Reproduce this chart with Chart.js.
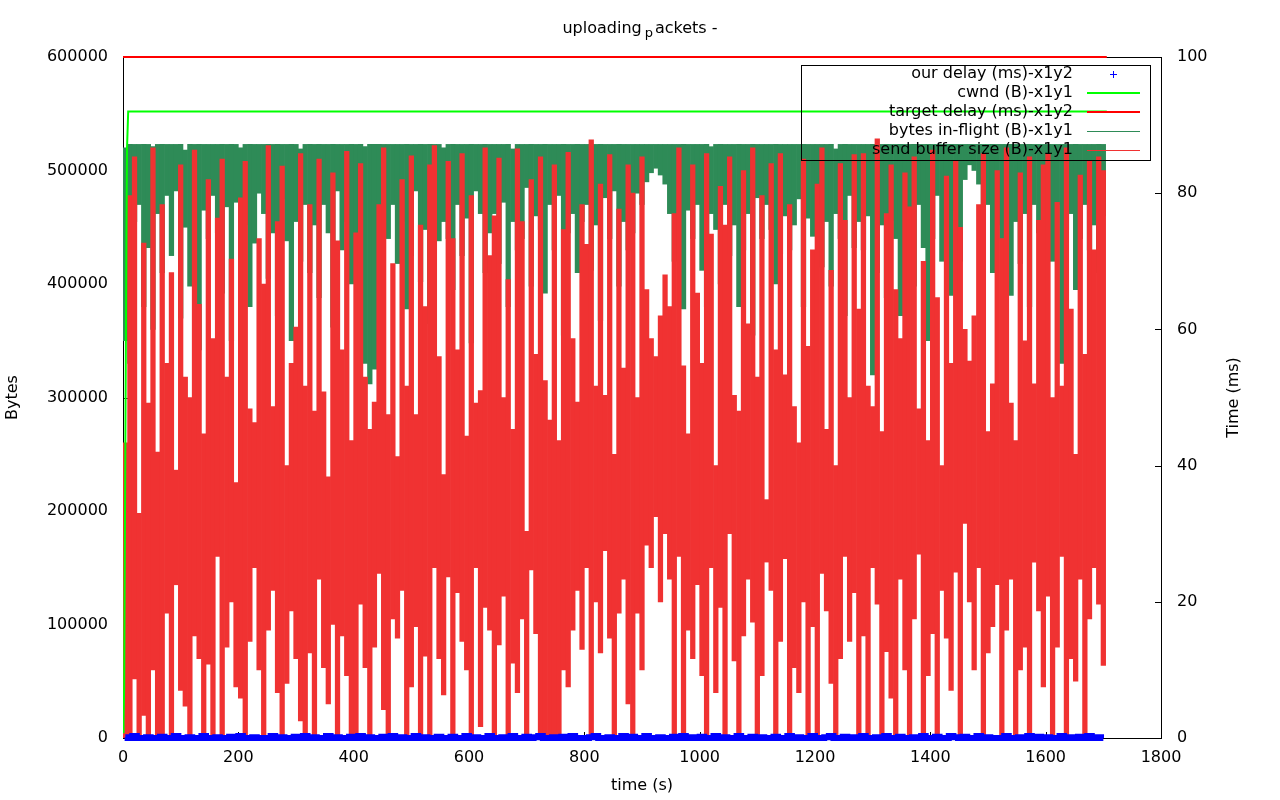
<!DOCTYPE html>
<html>
<head>
<meta charset="utf-8">
<title>uploading packets</title>
<script src="https://cdn.jsdelivr.net/npm/chart.js@4.4.1/dist/chart.umd.min.js"></script>
<style>
  html, body { margin: 0; padding: 0; background: #fff; }
  canvas { display: block; }
</style>
</head>
<body>
<canvas id="chart" width="1280" height="800"></canvas>
<script>
// sample times (s), one column of the plot each
const times = [
  4,12,20,28,36,44,52,60,68,76,
  84,92,100,108,116,124,132,140,148,156,
  164,172,180,188,196,204,212,220,228,236,
  244,252,260,268,276,284,292,300,308,316,
  324,332,340,348,356,364,372,380,388,396,
  404,412,420,428,436,444,452,460,468,476,
  484,492,500,508,516,524,532,540,548,556,
  564,572,580,588,596,604,612,620,628,636,
  644,652,660,668,676,684,692,700,708,716,
  724,732,740,748,756,764,772,780,788,796,
  804,812,820,828,836,844,852,860,868,876,
  884,892,900,908,916,924,932,940,948,956,
  964,972,980,988,996,1004,1012,1020,1028,1036,
  1044,1052,1060,1068,1076,1084,1092,1100,1108,1116,
  1124,1132,1140,1148,1156,1164,1172,1180,1188,1196,
  1204,1212,1220,1228,1236,1244,1252,1260,1268,1276,
  1284,1292,1300,1308,1316,1324,1332,1340,1348,1356,
  1364,1372,1380,1388,1396,1404,1412,1420,1428,1436,
  1444,1452,1460,1468,1476,1484,1492,1500,1508,1516,
  1524,1532,1540,1548,1556,1564,1572,1580,1588,1596,
  1604,1612,1620,1628,1636,1644,1652,1660,1668,1676,
  1684,1692,1700
];

// send buffer size (B): max / min seen in each column
const sendBufHi = [
  260e3,478e3,512e3,198e3,436e3,295e3,520e3,252e3,470e3,330e3,
  410e3,236e3,505e3,318e3,300e3,518e3,382e3,268e3,492e3,352e3,
  458e3,510e3,318e3,422e3,225e3,476e3,508e3,290e3,278e3,440e3,
  400e3,522e3,292e3,455e3,504e3,240e3,330e3,362e3,515e3,310e3,
  470e3,288e3,510e3,305e3,230e3,498e3,438e3,342e3,517e3,262e3,
  445e3,506e3,318e3,272e3,296e3,470e3,520e3,285e3,418e3,248e3,
  492e3,310e3,513e3,285e3,452e3,380e3,505e3,522e3,336e3,232e3,
  508e3,440e3,342e3,515e3,266e3,478e3,295e3,306e3,520e3,425e3,
  460e3,511e3,300e3,404e3,272e3,519e3,455e3,182e3,492e3,338e3,
  512e3,315e3,280e3,505e3,262e3,448e3,516e3,352e3,296e3,470e3,
  435e3,527e3,310e3,488e3,302e3,514e3,250e3,466e3,326e3,505e3,
  480e3,300e3,512e3,395e3,352e3,336e3,372e3,408e3,380e3,462e3,
  520e3,328e3,268e3,505e3,392e3,330e3,515e3,444e3,240e3,486e3,
  452e3,512e3,302e3,288e3,500e3,365e3,520e3,318e3,478e3,210e3,
  506e3,342e3,515e3,320e3,470e3,292e3,260e3,510e3,345e3,430e3,
  488e3,520e3,272e3,412e3,240e3,506e3,456e3,300e3,514e3,378e3,
  515e3,310e3,292e3,528e3,270e3,462e3,505e3,395e3,352e3,498e3,
  468e3,512e3,290e3,420e3,262e3,518e3,388e3,240e3,495e3,330e3,
  508e3,450e3,360e3,332e3,372e3,470e3,515e3,270e3,312e3,500e3,
  440e3,520e3,295e3,262e3,498e3,350e3,512e3,312e3,456e3,505e3,
  515e3,300e3,472e3,310e3,520e3,378e3,250e3,496e3,338e3,508e3,
  430e3,512e3,500e3
];
const sendBufLo = [
  0,0,52e3,0,20e3,0,60e3,0,0,110e3,
  0,135e3,42e3,28e3,0,90e3,70e3,2e3,65e3,0,
  160e3,0,80e3,120e3,45e3,35e3,0,85e3,150e3,60e3,
  0,95e3,130e3,40e3,0,48e3,112e3,70e3,15e3,0,
  75e3,0,140e3,62e3,30e3,100e3,0,90e3,55e3,0,
  0,118e3,62e3,0,80e3,145e3,25e3,0,105e3,88e3,
  130e3,0,45e3,98e3,0,72e3,0,150e3,70e3,38e3,
  142e3,0,128e3,85e3,60e3,0,150e3,10e3,115e3,95e3,
  0,82e3,125e3,0,66e3,40e3,105e3,0,148e3,92e3,
  0,0,0,0,0,60e3,45e3,95e3,130e3,78e3,
  150e3,0,120e3,75e3,165e3,88e3,0,110e3,140e3,30e3,
  0,110e3,60e3,170e3,150e3,195e3,120e3,180e3,140e3,0,
  160e3,0,95e3,70e3,135e3,55e3,0,150e3,40e3,115e3,
  0,180e3,68e3,0,90e3,140e3,102e3,0,55e3,155e3,
  130e3,0,85e3,158e3,0,62e3,40e3,120e3,0,98e3,
  0,145e3,112e3,48e3,0,70e3,160e3,85e3,128e3,0,
  90e3,0,150e3,118e3,0,76e3,35e3,0,140e3,60e3,
  0,105e3,162e3,0,55e3,92e3,0,130e3,88e3,42e3,
  146e3,0,189e3,120e3,60e3,150e3,0,75e3,98e3,135e3,
  0,95e3,140e3,0,60e3,80e3,0,155e3,112e3,45e3,
  125e3,0,80e3,160e3,0,70e3,50e3,140e3,0,105e3,
  150e3,118e3,64e3
];

// bytes in-flight (B): max / min seen in each column
const inflightHi = [
  520e3,523e3,523e3,523e3,523e3,523e3,521e3,523e3,523e3,523e3,
  523e3,523e3,523e3,518e3,523e3,523e3,523e3,523e3,523e3,523e3,
  523e3,523e3,523e3,523e3,523e3,520e3,523e3,523e3,523e3,523e3,
  523e3,523e3,523e3,523e3,523e3,523e3,523e3,523e3,519e3,523e3,
  523e3,523e3,523e3,523e3,523e3,523e3,523e3,523e3,523e3,523e3,
  523e3,523e3,521e3,523e3,523e3,523e3,523e3,523e3,523e3,523e3,
  523e3,523e3,523e3,523e3,523e3,523e3,523e3,523e3,523e3,520e3,
  523e3,523e3,523e3,523e3,523e3,523e3,523e3,523e3,523e3,523e3,
  523e3,523e3,523e3,523e3,519e3,523e3,523e3,523e3,523e3,523e3,
  523e3,523e3,523e3,523e3,523e3,523e3,523e3,523e3,523e3,523e3,
  523e3,523e3,523e3,523e3,523e3,523e3,523e3,523e3,523e3,523e3,
  523e3,523e3,523e3,523e3,523e3,523e3,523e3,523e3,523e3,523e3,
  523e3,523e3,523e3,523e3,523e3,523e3,523e3,521e3,523e3,523e3,
  523e3,523e3,523e3,523e3,523e3,523e3,523e3,523e3,523e3,523e3,
  523e3,523e3,523e3,523e3,523e3,523e3,523e3,523e3,523e3,523e3,
  523e3,523e3,523e3,523e3,519e3,523e3,523e3,523e3,523e3,523e3,
  523e3,523e3,523e3,523e3,523e3,523e3,523e3,523e3,523e3,523e3,
  523e3,523e3,523e3,523e3,523e3,523e3,523e3,523e3,523e3,523e3,
  523e3,523e3,523e3,523e3,523e3,523e3,523e3,523e3,523e3,523e3,
  523e3,523e3,523e3,523e3,523e3,523e3,523e3,523e3,523e3,523e3,
  523e3,523e3,523e3,523e3,523e3,523e3,523e3,523e3,523e3,523e3,
  523e3,523e3,523e3
];
const inflightLo = [
  350e3,330e3,455e3,470e3,380e3,432e3,360e3,462e3,410e3,478e3,
  425e3,482e3,370e3,450e3,398e3,458e3,342e3,465e3,440e3,478e3,
  445e3,392e3,468e3,350e3,472e3,415e3,452e3,380e3,436e3,480e3,
  462e3,405e3,445e3,372e3,475e3,438e3,350e3,455e3,420e3,470e3,
  410e3,452e3,388e3,470e3,445e3,362e3,482e3,430e3,455e3,400e3,
  420e3,360e3,330e3,312e3,325e3,390e3,452e3,440e3,470e3,418e3,
  455e3,378e3,425e3,482e3,402e3,448e3,365e3,470e3,438e3,455e3,
  440e3,395e3,470e3,425e3,458e3,348e3,482e3,462e3,410e3,445e3,
  462e3,418e3,472e3,380e3,455e3,430e3,440e3,485e3,398e3,460e3,
  448e3,392e3,470e3,430e3,478e3,355e3,445e3,462e3,410e3,455e3,
  470e3,412e3,452e3,368e3,476e3,440e3,482e3,398e3,455e3,430e3,
  445e3,480e3,470e3,490e3,498e3,502e3,496e3,488e3,462e3,420e3,
  452e3,378e3,465e3,440e3,470e3,412e3,380e3,462e3,448e3,400e3,
  470e3,425e3,452e3,380e3,430e3,462e3,355e3,476e3,440e3,470e3,
  448e3,400e3,426e3,460e3,430e3,452e3,475e3,380e3,458e3,442e3,
  470e3,415e3,455e3,398e3,462e3,440e3,372e3,478e3,432e3,455e3,
  430e3,460e3,320e3,410e3,452e3,388e3,456e3,440e3,372e3,470e3,
  455e3,398e3,470e3,432e3,350e3,440e3,478e3,420e3,452e3,390e3,
  465e3,420e3,492e3,505e3,500e3,488e3,445e3,470e3,410e3,452e3,
  440e3,470e3,390e3,455e3,418e3,462e3,380e3,470e3,445e3,412e3,
  455e3,420e3,470e3,330e3,448e3,462e3,395e3,440e3,470e3,430e3,
  452e3,410e3,460e3
];

// our delay (ms)
const ourDelay = [
  0.1,0,0.3,0,0,0.1,0,0,0.2,0,
  0,0.3,0,0,0.1,0,0,0.3,0,0,
  0.1,0,0,0.2,0,0.3,0,0,0.1,0,
  0,0,0.3,0,0.1,0,0,0.2,0,0.3,
  0,0.1,0,0,0.3,0,0.1,0,0,0.2,
  0,0.3,0,0.1,0,0,0.2,0,0.3,0,
  0.1,0,0,0.3,0,0.1,0,0,0.2,0,
  0,0.2,0,0,0.3,0,0.1,0,0,0.3,
  0,0,0.1,0,0.3,0,0,0.2,0,0.1,
  0.3,0,0,0.1,0,0.2,0,0.3,0,0,
  0,0.1,0.3,0,0,0.1,0,0,0.3,0,
  0.2,0,0,0.3,0,0,0.1,0,0,0.2,
  0,0.3,0,0.1,0,0.2,0,0,0.3,0,
  0.1,0,0,0.3,0,0,0.2,0,0.1,0,
  0,0.2,0,0,0.3,0,0.1,0,0,0.3,
  0,0,0.1,0.3,0,0,0.2,0,0.1,0,
  0.3,0,0,0.1,0,0.3,0,0,0.2,0,
  0,0.1,0,0.3,0,0,0.2,0,0,0.3,
  0.1,0,0.2,0,0,0.3,0,0.1,0,0,
  0,0.3,0,0,0.1,0,0.3,0,0.2,0,
  0.1,0,0,0.3,0,0.1,0,0.2,0,0.3,
  0,0.1,0
];

// cwnd (B)
const cwndTimes = [0, 1, 2, 4, 6, 7, 9, 1706];
const cwnd = [5e3, 15e3, 45e3, 250e3, 450e3, 520e3, 552e3, 552e3];

// target delay (ms)
const targetTimes = [0, 1706];
const targetDelay = [100, 100];

const xTicks = [0, 200, 400, 600, 800, 1000, 1200, 1400, 1600, 1800];

const FONT = 'DejaVu Sans';
Chart.defaults.font.family = FONT;
Chart.defaults.font.size = 16;
Chart.defaults.color = '#000';

const pts = (xs, ys) => xs.map((x, i) => ({ x: x, y: ys[i] }));
const ranges = (xs, lo, hi) => xs.map((x, i) => ({ x: x, y: [lo[i], hi[i]] }));

// gnuplot look: box, inward ticks, title, axis labels, key
const gnuplotFrame = {
  id: 'gnuplotFrame',
  beforeDatasetsDraw(chart) {
    const { ctx, chartArea: a, scales } = chart;
    ctx.save();
    ctx.strokeStyle = '#000';
    ctx.lineWidth = 1;
    ctx.strokeRect(a.left + 0.5, a.top + 0.5, a.right - a.left, a.bottom - a.top);
    ctx.beginPath();
    scales.y.ticks.forEach(t => {
      const py = Math.round(scales.y.getPixelForValue(t.value)) + 0.5;
      ctx.moveTo(a.left, py); ctx.lineTo(a.left + 6, py);
    });
    scales.y2.ticks.forEach(t => {
      const py = Math.round(scales.y2.getPixelForValue(t.value)) + 0.5;
      ctx.moveTo(a.right, py); ctx.lineTo(a.right - 6, py);
    });
    scales.x.ticks.forEach(t => {
      const px = Math.round(scales.x.getPixelForValue(t.value)) + 0.5;
      ctx.moveTo(px, a.bottom); ctx.lineTo(px, a.bottom - 6);
    });
    ctx.stroke();
    ctx.restore();
  },
  afterDatasetsDraw(chart) {
    const ctx = chart.ctx;
    ctx.save();
    ctx.strokeStyle = '#000';
    ctx.lineWidth = 1;
    ctx.strokeRect(801.5, 65.5, 349, 95);
    ctx.font = '16px ' + FONT;
    ctx.fillStyle = '#000';
    ctx.textAlign = 'right';
    ctx.textBaseline = 'middle';
    const rows = chart.data.datasets.map(d => d.label);
    rows.forEach((label, i) => ctx.fillText(label, 1073, 74 + i * 19));
    // samples
    ctx.strokeStyle = '#0000ff';
    ctx.beginPath();
    ctx.moveTo(1110, 74.5); ctx.lineTo(1117, 74.5);
    ctx.moveTo(1113.5, 71); ctx.lineTo(1113.5, 78);
    ctx.stroke();
    const lines = [['#00ff00', 2, 93], ['#ff0000', 2, 112], ['#2e8b57', 1, 131.5], ['#f03232', 1, 150.5]];
    lines.forEach(([c, w, y]) => {
      ctx.strokeStyle = c; ctx.lineWidth = w;
      ctx.beginPath(); ctx.moveTo(1087, y); ctx.lineTo(1140, y); ctx.stroke();
    });
    ctx.restore();
  },
  afterDraw(chart) {
    const { ctx, chartArea: a } = chart;
    ctx.save();
    ctx.fillStyle = '#000';
    // title with subscript p
    const big = '16px ' + FONT, small = '13px ' + FONT;
    ctx.font = big;
    const w1 = ctx.measureText('uploading').width;
    const w3 = ctx.measureText('ackets -').width;
    ctx.font = small;
    const w2 = ctx.measureText('p').width;
    let x = 640 - (w1 + 3 + w2 + 2 + w3) / 2;
    ctx.textAlign = 'left';
    ctx.textBaseline = 'alphabetic';
    ctx.font = big; ctx.fillText('uploading', x, 33);
    x += w1 + 3;
    ctx.font = small; ctx.fillText('p', x, 37);
    x += w2 + 2;
    ctx.font = big; ctx.fillText('ackets -', x, 33);
    // axis titles
    ctx.font = big;
    ctx.textAlign = 'center';
    ctx.textBaseline = 'middle';
    ctx.fillText('time (s)', (a.left + a.right) / 2, 786);
    const midY = (a.top + a.bottom) / 2;
    [['Bytes', 13], ['Time (ms)', 1234]].forEach(([t, px]) => {
      ctx.save();
      ctx.translate(px, midY);
      ctx.rotate(-Math.PI / 2);
      ctx.fillText(t, 0, 0);
      ctx.restore();
    });
    ctx.restore();
  }
};

const plain = v => String(v);

new Chart(document.getElementById('chart'), {
  type: 'bar',
  data: {
    datasets: [
      {
        type: 'line', label: 'our delay (ms)-x1y2', yAxisID: 'y2',
        data: pts(times, ourDelay), stepped: 'middle',
        borderColor: '#0000ff', borderWidth: 6, pointRadius: 0, order: 0, clip: false
      },
      {
        type: 'line', label: 'cwnd (B)-x1y1', yAxisID: 'y',
        data: pts(cwndTimes, cwnd),
        borderColor: '#00ff00', borderWidth: 2, pointRadius: 0, order: 1
      },
      {
        type: 'line', label: 'target delay (ms)-x1y2', yAxisID: 'y2',
        data: pts(targetTimes, targetDelay),
        borderColor: '#ff0000', borderWidth: 2, pointRadius: 0, order: 2, clip: false
      },
      {
        label: 'bytes in-flight (B)-x1y1', yAxisID: 'y',
        data: ranges(times, inflightLo, inflightHi),
        backgroundColor: '#2e8b57', order: 4
      },
      {
        label: 'send buffer size (B)-x1y1', yAxisID: 'y',
        data: ranges(times, sendBufLo, sendBufHi),
        backgroundColor: '#f03232', order: 3
      }
    ]
  },
  options: {
    responsive: false,
    animation: false,
    events: [],
    layout: { padding: { top: 57, left: 0, right: 0, bottom: 0 } },
    datasets: {
      bar: { grouped: false, barPercentage: 1, categoryPercentage: 1, borderWidth: 0 }
    },
    plugins: {
      legend: { display: false },
      title: { display: false },
      tooltip: { enabled: false }
    },
    scales: {
      x: {
        type: 'linear', position: 'bottom', min: 0, max: 1800, offset: false,
        grid: { display: false, drawTicks: false }, border: { display: false },
        afterBuildTicks: s => { s.ticks = xTicks.map(v => ({ value: v })); },
        ticks: { padding: 10, maxRotation: 0, autoSkip: false, callback: plain },
        afterFit: s => { s.height = 62; }
      },
      y: {
        type: 'linear', position: 'left', min: 0, max: 600000,
        grid: { display: false, drawTicks: false }, border: { display: false },
        ticks: { stepSize: 100000, padding: 15, callback: plain },
        afterFit: s => { s.width = 123; }
      },
      y2: {
        type: 'linear', position: 'right', min: 0, max: 100,
        grid: { display: false, drawTicks: false }, border: { display: false },
        ticks: { stepSize: 20, padding: 16, callback: plain },
        afterFit: s => { s.width = 119; }
      }
    }
  },
  plugins: [gnuplotFrame]
});
</script>
</body>
</html>
